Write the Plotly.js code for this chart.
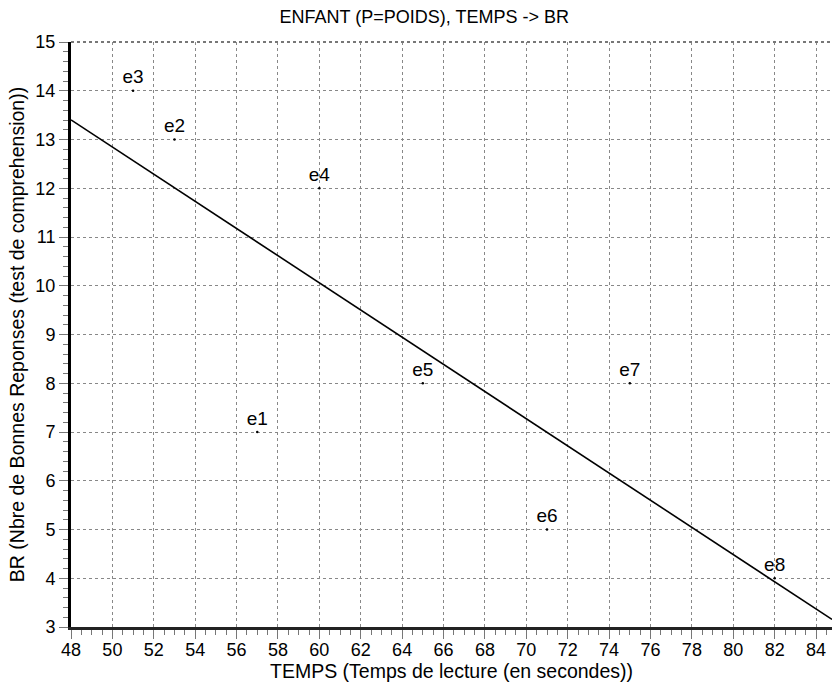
<!DOCTYPE html>
<html>
<head>
<meta charset="utf-8">
<script src="https://cdn.plot.ly/plotly-3.0.1.min.js"></script>
<style>html,body{margin:0;padding:0;background:#fff;}#chart{width:832px;height:687px;}</style>
</head>
<body>
<div id="chart"></div>
<script>
// Data
const labels = ["e1","e2","e3","e4","e5","e6","e7","e8"];
const temps = [57, 53, 51, 60, 65, 71, 75, 82];
const br = [7, 13, 14, 12, 8, 5, 8, 4];
const xRange = [48, 84.77];
const yRange = [3, 15];

// Least-squares regression BR ~ TEMPS
const n = temps.length;
const mx = temps.reduce((a,b)=>a+b,0)/n;
const my = br.reduce((a,b)=>a+b,0)/n;
let sxy = 0, sxx = 0;
for (let i=0;i<n;i++){ sxy += (temps[i]-mx)*(br[i]-my); sxx += (temps[i]-mx)**2; }
const slope = sxy/sxx, intercept = my - slope*mx;
const lineX = [xRange[0], xRange[1]];
const lineY = lineX.map(x => intercept + slope*x);

const font = "Liberation Sans, Arial, sans-serif";

const traces = [
  {x: lineX, y: lineY, mode: "lines", line: {color: "#000", width: 1.6}, hoverinfo: "skip"},
  {x: temps, y: br, mode: "markers+text", text: labels, textposition: "top center",
   textfont: {family: font, size: 19, color: "#000"},
   marker: {color: "#000", size: 2.5}, cliponaxis: false}
];

const layout = {
  width: 832, height: 687,
  margin: {l: 71, r: 0, t: 42, b: 60},
  paper_bgcolor: "#fff", plot_bgcolor: "#fff",
  showlegend: false,
  font: {family: font, color: "#000"},
  title: {text: "ENFANT (P=POIDS), TEMPS -> BR", font: {family: font, size: 18, color: "#000"},
          x: 0.51, xanchor: "center", y: 0.975, yanchor: "middle"},
  xaxis: {
    range: xRange, dtick: 2, tick0: 48,
    showgrid: true, gridcolor: "#888", griddash: "dot", gridwidth: 1,
    zeroline: false, showline: true, linecolor: "#222", linewidth: 3,
    ticks: "outside", ticklen: 9, tickcolor: "#777", tickwidth: 1,
    ticklabelstandoff: -5,
    tickfont: {family: font, size: 18, color: "#000"},
    minor: {dtick: 0.5, ticks: "outside", ticklen: 5, tickcolor: "#777", showgrid: false},
    title: {text: "TEMPS (Temps de lecture (en secondes))", font: {family: font, size: 19.5, color: "#000"}, standoff: 6}
  },
  yaxis: {
    range: yRange, dtick: 1, tick0: 3,
    showgrid: true, gridcolor: "#888", griddash: "dot", gridwidth: 1,
    zeroline: false, showline: true, linecolor: "#000", linewidth: 3,
    ticks: "outside", ticklen: 9, tickcolor: "#777", tickwidth: 1,
    tickfont: {family: font, size: 18, color: "#000"},
    minor: {dtick: 0.2, ticks: "outside", ticklen: 5, tickcolor: "#777", showgrid: false},
    title: {text: "BR (Nbre de Bonnes Reponses (test de comprehension))", font: {family: font, size: 19.5, color: "#000"}, standoff: 6}
  },
  shapes: [
    {type: "line", xref: "paper", yref: "paper", x0: 0, x1: 1, y0: 1, y1: 1,
     line: {color: "#777", width: 2, dash: "dot"}}
  ]
};

Plotly.newPlot("chart", traces, layout, {staticPlot: true, displayModeBar: false});
</script>
</body>
</html>
